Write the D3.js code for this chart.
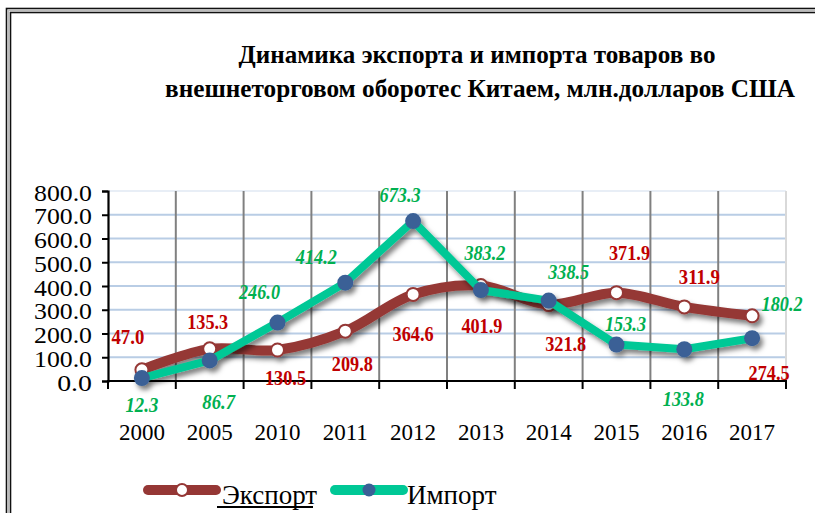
<!DOCTYPE html>
<html><head><meta charset="utf-8">
<script src="https://cdn.jsdelivr.net/npm/d3@7"></script>
<style>
html,body{margin:0;padding:0;background:#fff;}
svg{display:block;}
</style></head>
<body>
<svg id="chart" width="815" height="513"></svg>
<script>
const years = ["2000","2005","2010","2011","2012","2013","2014","2015","2016","2017"];
const exportValues = [47.0,135.3,130.5,209.8,364.6,401.9,321.8,371.9,311.9,274.5];
const importValues = [12.3,86.7,246.0,414.2,673.3,383.2,338.5,153.3,133.8,180.2];
const yTicks = [0,100,200,300,400,500,600,700,800];
const seriesNames = ["Экспорт","Импорт"];
const titleLines = ["Динамика экспорта и импорта товаров во","внешнеторговом оборотес Китаем, млн.долларов США"];

// label offsets (layout, not data)
const exportLabelOff = [[-14,-33],[-2,-27],[8,28],[7,33],[0,40],[1,40],[17,39],[13,-40],[15,-30],[17,57]];
const importLabelOff = [[0,27],[9,42],[-18,-31],[-29,-26],[-13,-26],[4,-37],[20,-29],[9,-21],[-1,50],[30,-34]];

const svg = d3.select("#chart");
const defs = svg.append("defs");
const f = defs.append("filter").attr("id","shadow").attr("x","-20%").attr("y","-20%").attr("width","140%").attr("height","140%");
f.append("feDropShadow").attr("dx",3).attr("dy",4).attr("stdDeviation",2.8).attr("flood-color","#000").attr("flood-opacity",0.5);

// frame
svg.append("rect").attr("x",6.5).attr("y",8.5).attr("width",900).attr("height",600)
  .attr("fill","none").attr("stroke","#111").attr("stroke-width",1.6);
svg.append("rect").attr("x",8.5).attr("y",10.5).attr("width",900).attr("height",600)
  .attr("fill","none").attr("stroke","#bbb").attr("stroke-width",1.2);
svg.append("rect").attr("x",10.5).attr("y",12.5).attr("width",900).attr("height",600)
  .attr("fill","none").attr("stroke","#111").attr("stroke-width",1.6);

const x = d3.scaleBand().domain(years).range([108,786]).padding(0);
const y = d3.scaleLinear().domain([0,800]).range([381,191]);
const cx = d => x(d) + x.bandwidth()/2;

// title
const serif = "Liberation Serif, Times New Roman, serif";
const tl = [[477,63,477],[480,97,630]];
titleLines.forEach((t,i)=>{
  svg.append("text").attr("x",tl[i][0]).attr("y",tl[i][1]).attr("text-anchor","middle")
    .attr("font-family",serif).attr("font-weight","bold").attr("font-size",26)
    .attr("textLength",tl[i][2]).attr("lengthAdjust","spacingAndGlyphs")
    .attr("fill","#000").text(t);
});

// horizontal gridlines
svg.append("g").selectAll("line").data(yTicks.filter(v=>v>0)).join("line")
  .attr("x1",108).attr("x2",786).attr("y1",d=>y(d)).attr("y2",d=>y(d))
  .attr("stroke",d=>d===800?"#e8eef6":"#b9cde5").attr("stroke-width",2);
// vertical gridlines at band boundaries
svg.append("g").selectAll("line").data(years.slice(1)).join("line")
  .attr("x1",d=>x(d)).attr("x2",d=>x(d)).attr("y1",191).attr("y2",381)
  .attr("stroke","#808080").attr("stroke-width",2);
svg.append("line").attr("x1",786).attr("x2",786).attr("y1",191).attr("y2",381)
  .attr("stroke","#d9d9d9").attr("stroke-width",2);

// axes
const yAxis = svg.append("g").attr("transform","translate(108,0)")
  .call(d3.axisLeft(y).tickValues(yTicks).tickSize(6).tickPadding(10).tickFormat(d3.format(".1f")));
yAxis.select(".domain").attr("stroke","#000").attr("stroke-width",2.2);
yAxis.selectAll(".tick line").attr("stroke","#000").attr("stroke-width",2);
yAxis.selectAll(".tick text").attr("font-family",serif).attr("font-size",23).attr("fill","#000")
  .attr("textLength",function(d){return d3.format(".1f")(d).length*11.6;}).attr("lengthAdjust","spacingAndGlyphs")
  .attr("dy","0.4em");

const xAxis = svg.append("g").attr("transform","translate(0,381)")
  .call(d3.axisBottom(x).tickSize(0).tickPadding(0));
xAxis.select(".domain").remove();
svg.append("line").attr("x1",107).attr("x2",787).attr("y1",381).attr("y2",381).attr("stroke","#000").attr("stroke-width",2.2);
svg.append("g").selectAll("line").data(years.concat(["end"])).join("line")
  .attr("x1",(d,i)=>i<years.length?x(d):x.range()[1]).attr("x2",(d,i)=>i<years.length?x(d):x.range()[1])
  .attr("y1",381).attr("y2",389).attr("stroke","#000").attr("stroke-width",2);
xAxis.selectAll(".tick text").attr("font-family",serif).attr("font-size",23).attr("fill","#000")
  .attr("y",59).attr("dy",0);

// lines
const expPts = years.map((d,i)=>[cx(d), y(exportValues[i])]);
const impPts = years.map((d,i)=>[cx(d), y(importValues[i])]);
const exportColor = "#953735", importColor = "#00c896", impMarker = "#3a6096";

const gExp = svg.append("g").attr("filter","url(#shadow)");
gExp.append("path").attr("d",d3.line().curve(d3.curveCatmullRom.alpha(0.5))(expPts))
  .attr("fill","none").attr("stroke",exportColor).attr("stroke-width",10).attr("stroke-linejoin","round").attr("stroke-linecap","round");
gExp.selectAll("circle").data(expPts).join("circle").attr("cx",d=>d[0]).attr("cy",d=>d[1]).attr("r",6.5)
  .attr("fill","#fff").attr("stroke",exportColor).attr("stroke-width",2);

const gImp = svg.append("g").attr("filter","url(#shadow)");
gImp.append("path").attr("d",d3.line()(impPts))
  .attr("fill","none").attr("stroke",importColor).attr("stroke-width",8).attr("stroke-linejoin","round").attr("stroke-linecap","round");
gImp.selectAll("circle").data(impPts).join("circle").attr("cx",d=>d[0]).attr("cy",d=>d[1]).attr("r",8)
  .attr("fill",impMarker);

// data labels
const fmt = d3.format(".1f");
svg.append("g").selectAll("text").data(exportValues).join("text")
  .attr("x",(d,i)=>expPts[i][0]+exportLabelOff[i][0]).attr("y",(d,i)=>expPts[i][1]+exportLabelOff[i][1]+7)
  .attr("text-anchor","middle").attr("font-family",serif).attr("font-weight","bold").attr("font-size",22)
  .attr("textLength",d=>fmt(d).length*8.2).attr("lengthAdjust","spacingAndGlyphs")
  .attr("fill","#c00000").text(d=>fmt(d));
svg.append("g").selectAll("text").data(importValues).join("text")
  .attr("x",(d,i)=>impPts[i][0]+importLabelOff[i][0]).attr("y",(d,i)=>impPts[i][1]+importLabelOff[i][1]+7)
  .attr("text-anchor","middle").attr("font-family",serif).attr("font-weight","bold").attr("font-style","italic").attr("font-size",22)
  .attr("textLength",d=>fmt(d).length*8.2).attr("lengthAdjust","spacingAndGlyphs")
  .attr("fill","#00b050").text(d=>fmt(d));

// legend
const legend = [
  {name:seriesNames[0], x1:148, x2:216, color:exportColor, w:10, mfill:"#fff", mstroke:exportColor, r:6, tx:222},
  {name:seriesNames[1], x1:335, x2:403, color:importColor, w:10, mfill:impMarker, mstroke:"none", r:6.5, tx:407}
];
legend.forEach((l,i)=>{
  svg.append("line").attr("x1",l.x1).attr("x2",l.x2).attr("y1",490).attr("y2",490)
    .attr("stroke",l.color).attr("stroke-width",l.w).attr("stroke-linecap","round");
  svg.append("circle").attr("cx",(l.x1+l.x2)/2).attr("cy",490).attr("r",l.r)
    .attr("fill",l.mfill).attr("stroke",l.mstroke).attr("stroke-width",2);
  svg.append("text").attr("x",l.tx).attr("y",504).attr("font-family",serif).attr("font-size",27)
    .attr("fill","#000").text(l.name);
});
svg.append("line").attr("x1",217).attr("x2",313).attr("y1",507).attr("y2",507).attr("stroke","#000").attr("stroke-width",2);
</script>
</body></html>
